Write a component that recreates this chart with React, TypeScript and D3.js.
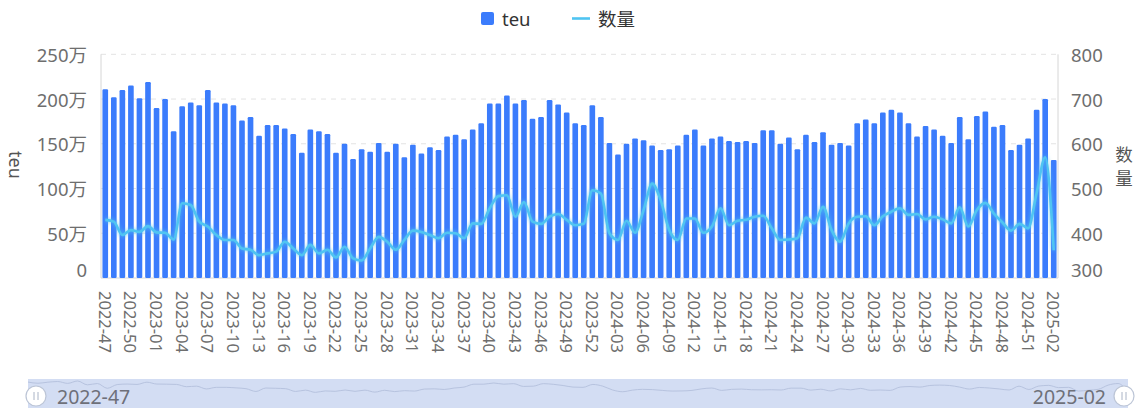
import React, { useEffect, useRef } from 'react';
import * as d3 from 'd3';

// week labels, 2022-47 .. 2025-02
const weeks = [
  '2022-47', '2022-48', '2022-49', '2022-50', '2022-51', '2022-52',
  '2023-01', '2023-02', '2023-03', '2023-04', '2023-05', '2023-06', '2023-07', '2023-08', '2023-09', '2023-10',
  '2023-11', '2023-12', '2023-13', '2023-14', '2023-15', '2023-16', '2023-17', '2023-18', '2023-19', '2023-20',
  '2023-21', '2023-22', '2023-23', '2023-24', '2023-25', '2023-26', '2023-27', '2023-28', '2023-29', '2023-30',
  '2023-31', '2023-32', '2023-33', '2023-34', '2023-35', '2023-36', '2023-37', '2023-38', '2023-39', '2023-40',
  '2023-41', '2023-42', '2023-43', '2023-44', '2023-45', '2023-46', '2023-47', '2023-48', '2023-49', '2023-50',
  '2023-51', '2023-52',
  '2024-01', '2024-02', '2024-03', '2024-04', '2024-05', '2024-06', '2024-07', '2024-08', '2024-09', '2024-10',
  '2024-11', '2024-12', '2024-13', '2024-14', '2024-15', '2024-16', '2024-17', '2024-18', '2024-19', '2024-20',
  '2024-21', '2024-22', '2024-23', '2024-24', '2024-25', '2024-26', '2024-27', '2024-28', '2024-29', '2024-30',
  '2024-31', '2024-32', '2024-33', '2024-34', '2024-35', '2024-36', '2024-37', '2024-38', '2024-39', '2024-40',
  '2024-41', '2024-42', '2024-43', '2024-44', '2024-45', '2024-46', '2024-47', '2024-48', '2024-49', '2024-50',
  '2024-51', '2024-52',
  '2025-01', '2025-02',
];

// teu, in 万
const teu = [
  211, 202, 210, 215, 201, 219, 190, 200, 164, 192, 196, 193, 210, 196, 195, 193, 176, 180, 159, 171,
  171, 167, 161, 140, 166, 164, 161, 140, 150, 133, 144, 141, 151, 141, 150, 135, 149, 139, 146, 143,
  158, 160, 155, 166, 173, 195, 195, 204, 195, 199, 178, 180, 199, 194, 185, 173, 171, 193, 180, 151,
  138, 150, 156, 154, 148, 143, 144, 148, 160, 166, 148, 156, 158, 153, 152, 153, 151, 165, 165, 150,
  157, 144, 160, 152, 163, 149, 151, 148, 173, 177, 173, 185, 188, 185, 173, 158, 170, 166, 159, 151,
  180, 155, 181, 186, 169, 171, 143, 149, 156, 188, 200, 132,
];

// 数量
const qty = [
  430, 426, 396, 407, 403, 416, 402, 401, 386, 467, 463, 426, 415, 396, 385, 385, 366, 363, 351, 355,
  359, 381, 366, 351, 374, 355, 363, 346, 370, 344, 339, 366, 392, 381, 363, 385, 406, 403, 396, 389,
  401, 400, 389, 422, 421, 456, 483, 485, 437, 470, 426, 421, 437, 443, 430, 418, 421, 496, 489, 400,
  385, 428, 401, 452, 511, 474, 407, 385, 433, 433, 401, 415, 456, 418, 428, 430, 437, 439, 411, 385,
  386, 389, 435, 422, 459, 407, 381, 422, 437, 438, 418, 438, 448, 456, 441, 443, 431, 437, 431, 422,
  458, 415, 452, 468, 444, 424, 406, 421, 411, 490, 570, 362,
];

const leftTicks = [0, 50, 100, 150, 200, 250];
const rightTicks = [300, 400, 500, 600, 700, 800];

const BAR = '#3b7cfc';
const LINE = '#4fc4f2';
const FONT = "'Noto Sans', 'Noto Sans CJK SC', sans-serif";

const App: React.FC = () => {
  const svgRef = useRef<SVGSVGElement>(null);
  const width = 1136;
  const height = 408;

  useEffect(() => {
    const svg = d3.select(svgRef.current);
    svg.selectAll('*').remove();

    const left = 101, right = 1058, top = 54.3, bottom = 278;

    const x = d3.scaleBand<string>().domain(weeks).range([left, right]).padding(0);
    const yL = d3.scaleLinear().domain([0, 250]).range([bottom, top]);
    const yR = d3.scaleLinear().domain([300, 800]).range([bottom, top]);
    const bw = x.bandwidth() * 0.66;
    const cx = (w: string) => (x(w) as number) + x.bandwidth() / 2;

    const defs = svg.append('defs');
    const glow = defs.append('filter').attr('id', 'glow')
      .attr('x', '-5%').attr('y', '-20%').attr('width', '110%').attr('height', '140%');
    glow.append('feGaussianBlur').attr('in', 'SourceGraphic').attr('stdDeviation', 2).attr('result', 'b');
    const merge = glow.append('feMerge');
    merge.append('feMergeNode').attr('in', 'b');
    merge.append('feMergeNode').attr('in', 'SourceGraphic');

    // grid
    svg.append('g').selectAll('line')
      .data(leftTicks.slice(1))
      .join('line')
        .attr('x1', left).attr('x2', right)
        .attr('y1', d => yL(d)).attr('y2', d => yL(d))
        .attr('stroke', '#e3e3e3')
        .attr('stroke-dasharray', '5,5');

    // axis lines
    svg.append('line').attr('x1', left).attr('x2', left).attr('y1', top).attr('y2', bottom).attr('stroke', '#d6d6d6');
    svg.append('line').attr('x1', right).attr('x2', right).attr('y1', top).attr('y2', bottom).attr('stroke', '#d6d6d6');
    svg.append('line').attr('x1', left).attr('x2', right).attr('y1', bottom).attr('y2', bottom).attr('stroke', '#d6d6d6');

    // bars
    svg.append('g').selectAll('rect')
      .data(teu)
      .join('rect')
        .attr('x', (_d, i) => cx(weeks[i]) - bw / 2)
        .attr('y', d => yL(d))
        .attr('width', bw)
        .attr('height', d => bottom - yL(d))
        .attr('rx', 1.2)
        .attr('fill', BAR);

    // line
    const line = d3.line<number>()
      .x((_d, i) => cx(weeks[i]))
      .y(d => yR(d))
      .curve(d3.curveMonotoneX);
    svg.append('path')
      .attr('d', line(qty))
      .attr('fill', 'none')
      .attr('stroke', LINE)
      .attr('stroke-width', 2.6)
      .attr('stroke-linejoin', 'round')
      .attr('filter', 'url(#glow)');

    // left ticks
    svg.append('g').selectAll('text')
      .data(leftTicks)
      .join('text')
        .attr('x', 87)
        .attr('y', d => yL(d) - (d === 0 ? 9 : 0))
        .attr('text-anchor', 'end')
        .attr('dominant-baseline', 'central')
        .attr('font-size', 18.5)
        .attr('fill', '#6e6e6e')
        .text(d => (d === 0 ? '0' : `${d}万`));

    // right ticks
    svg.append('g').selectAll('text')
      .data(rightTicks)
      .join('text')
        .attr('x', 1071)
        .attr('y', d => yR(d) - (d === 300 ? 9 : 0))
        .attr('dominant-baseline', 'central')
        .attr('font-size', 18.5)
        .attr('fill', '#6e6e6e')
        .text(d => d);

    // x labels, every third week
    svg.append('g').selectAll('text')
      .data(weeks.filter((_w, i) => i % 3 === 0))
      .join('text')
        .attr('transform', d => `translate(${cx(d)},291) rotate(90)`)
        .attr('dominant-baseline', 'central')
        .attr('font-size', 16.5)
        .attr('fill', '#6e6e6e')
        .text(d => d);

    // axis names
    svg.append('text')
      .attr('transform', 'translate(16,165) rotate(90)')
      .attr('text-anchor', 'middle')
      .attr('dominant-baseline', 'central')
      .attr('font-size', 18)
      .attr('fill', '#555')
      .text('teu');
    // right name, characters stacked upright
    svg.append('g').selectAll('text')
      .data(['数', '量'])
      .join('text')
        .attr('x', 1124)
        .attr('y', (_d, i) => 154 + i * 24)
        .attr('text-anchor', 'middle')
        .attr('dominant-baseline', 'central')
        .attr('font-size', 17.5)
        .attr('fill', '#555')
        .text(d => d);

    // legend
    svg.append('rect').attr('x', 481).attr('y', 12).attr('width', 13).attr('height', 13).attr('rx', 2).attr('fill', BAR);
    svg.append('text').attr('x', 502).attr('y', 18.5).attr('dominant-baseline', 'central')
      .attr('font-size', 18.5).attr('fill', '#333').text('teu');
    svg.append('line').attr('x1', 572).attr('x2', 590).attr('y1', 18.5).attr('y2', 18.5)
      .attr('stroke', LINE).attr('stroke-width', 2.6);
    svg.append('text').attr('x', 598).attr('y', 18.5).attr('dominant-baseline', 'central')
      .attr('font-size', 18.5).attr('fill', '#333').text('数量');

    // data zoom slider
    const zx0 = 28, zx1 = 1128, zy0 = 379, zy1 = 410;
    svg.append('rect').attr('x', zx0).attr('y', zy0).attr('width', zx1 - zx0).attr('height', zy1 - zy0)
      .attr('fill', '#d3ddf3');
    const sx = d3.scalePoint<string>().domain(weeks).range([zx0, zx1]);
    const sy = d3.scaleLinear().domain([0, d3.max(teu) as number]).range([zy1, zy0 + 2]);
    const shadow = d3.line<number>()
      .x((_d, i) => sx(weeks[i]) as number)
      .y(d => sy(d))
      .curve(d3.curveMonotoneX);
    svg.append('path').attr('d', shadow(teu)).attr('fill', 'none').attr('stroke', '#b7c3df').attr('stroke-width', 1);

    for (const hx of [36, 1124]) {
      svg.append('circle').attr('cx', hx).attr('cy', 396).attr('r', 10)
        .attr('fill', '#fff').attr('stroke', '#bcc5d6').attr('stroke-width', 1.2);
      svg.append('line').attr('x1', hx - 2).attr('x2', hx - 2).attr('y1', 392).attr('y2', 400).attr('stroke', '#aab4c6');
      svg.append('line').attr('x1', hx + 2).attr('x2', hx + 2).attr('y1', 392).attr('y2', 400).attr('stroke', '#aab4c6');
    }
    svg.append('text').attr('x', 57).attr('y', 396).attr('dominant-baseline', 'central')
      .attr('font-size', 19.5).attr('fill', '#6e7079').text(weeks[0]);
    svg.append('text').attr('x', 1106).attr('y', 396).attr('dominant-baseline', 'central')
      .attr('text-anchor', 'end').attr('font-size', 19.5).attr('fill', '#6e7079').text(weeks[weeks.length - 1]);
  }, []);

  return (
    <div style={{ position: 'absolute', left: 0, top: 0, fontFamily: FONT }}>
      <svg ref={svgRef} width={width} height={height} viewBox={`0 0 ${width} ${height}`}
        style={{ display: 'block', fontFamily: FONT }} />
    </div>
  );
};

export default App;
